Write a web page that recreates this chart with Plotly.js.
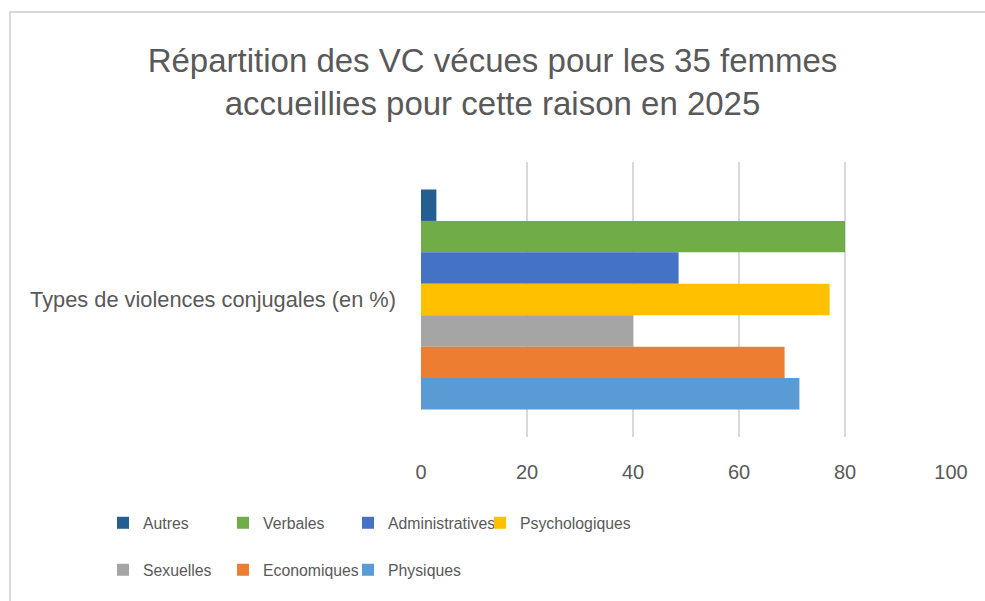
<!DOCTYPE html>
<html>
<head>
<meta charset="utf-8">
<script src="https://cdn.plot.ly/plotly-3.0.1.min.js"></script>
<style>
  html, body { margin: 0; padding: 0; background: #ffffff; }
  #wrap { position: relative; width: 985px; height: 601px; overflow: hidden; }
  #chart { position: absolute; left: 0; top: 0; width: 985px; height: 601px; }
  #frame { position: absolute; left: 9px; top: 11px; width: 990px; height: 600px;
           border-left: 2px solid #d9d9d9; border-top: 2px solid #d9d9d9; pointer-events: none; }
</style>
</head>
<body>
<div id="wrap"><div id="chart"></div><div id="frame"></div></div>
<script>
// ---- data ----
const category = ["Types de violences conjugales (en %)"];
const seriesNames = ["Autres", "Verbales", "Administratives", "Psychologiques", "Sexuelles", "Economiques", "Physiques"];
const seriesValues = [2.9, 80.0, 48.6, 77.1, 40.0, 68.6, 71.4];
const seriesColors = ["#255E91", "#70AD47", "#4472C4", "#FFC000", "#A5A5A5", "#ED7D31", "#5B9BD5"];
const xTicks = [0, 20, 40, 60, 80, 100];
const titleText = "Répartition des VC vécues pour les 35 femmes<br>accueillies pour cette raison en 2025";

// ---- layout helpers (pixels) ----
const W = 985, H = 601;
const plotL = 421, plotR = 951, plotT = 162, plotB = 437;
const px2x = p => (p - plotL) / (plotR - plotL);
const py2y = p => (plotB - p) / (plotB - plotT);
// legend text start positions (x) and row centers (y)
const legTextX = [143, 263, 388, 520, 143, 263, 388];
const legRowY = [523, 523, 523, 523, 570, 570, 570];

const FONT = "Liberation Sans, Arial, sans-serif";
const GREY = "#595959";

const traces = seriesNames.map((name, i) => ({
  type: "bar",
  orientation: "h",
  name: name,
  y: category,
  x: [seriesValues[i]],
  marker: { color: seriesColors[i], line: { width: 0 } },
  legend: i === 0 ? "legend" : "legend" + (i + 1),
  hoverinfo: "x+name"
}));

const layout = {
  width: W, height: H,
  paper_bgcolor: "rgba(0,0,0,0)",
  plot_bgcolor: "rgba(0,0,0,0)",
  margin: { l: plotL, r: W - plotR, t: plotT, b: H - plotB, pad: 0 },
  barmode: "group",
  bargap: 0.2,
  bargroupgap: 0,
  title: {
    text: titleText,
    font: { family: FONT, size: 33, color: GREY },
    x: 0.5, xref: "container", xanchor: "center",
    y: 1 - 72 / H, yref: "container", yanchor: "top"
  },
  xaxis: {
    range: [0, 100],
    tickvals: xTicks,
    ticktext: xTicks.map(String),
    showgrid: true, gridcolor: "#d9d9d9", gridwidth: 2,
    zeroline: false, showline: false, ticks: "",
    tickfont: { family: FONT, size: 20, color: GREY },
    ticklabelstandoff: 21
  },
  yaxis: {
    type: "category",
    range: [0.5, -0.5],
    showgrid: false, zeroline: false, showline: false, ticks: "",
    tickfont: { family: FONT, size: 21.8, color: GREY },
    ticklabelstandoff: 24
  },
  showlegend: true
};

seriesNames.forEach((n, i) => {
  const key = i === 0 ? "legend" : "legend" + (i + 1);
  layout[key] = {
    x: px2x(legTextX[i] - 40), xanchor: "left",
    y: py2y(legRowY[i]), yanchor: "middle",
    orientation: "v",
    bgcolor: "rgba(0,0,0,0)",
    borderwidth: 0,
    font: { family: FONT, size: 15.8, color: GREY },
    itemclick: false, itemdoubleclick: false
  };
});

Plotly.newPlot("chart", traces, layout, { displayModeBar: false, responsive: false });
</script>
</body>
</html>
